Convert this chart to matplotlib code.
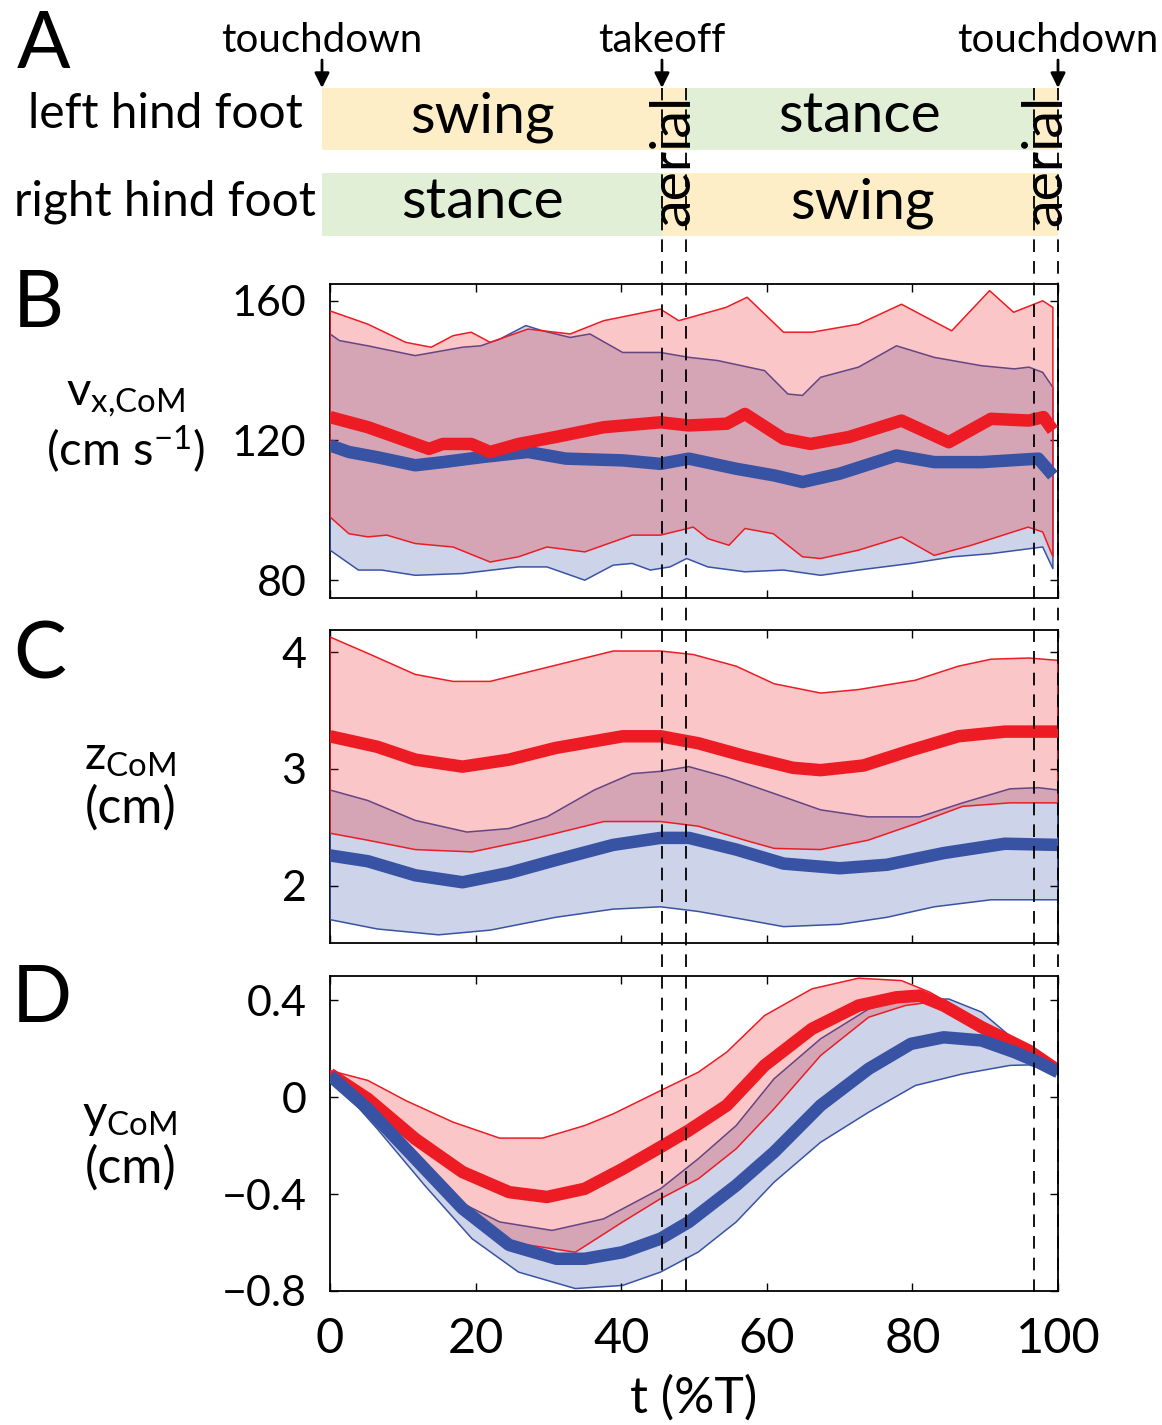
import numpy as np
import matplotlib
matplotlib.use('Agg')
import matplotlib.pyplot as plt

plt.rcParams['font.family'] = ['Lato', 'DejaVu Sans']
plt.rcParams['mathtext.fontset'] = 'custom'
plt.rcParams['mathtext.rm'] = 'Lato'
plt.rcParams['mathtext.it'] = 'Lato:italic'
plt.rcParams['mathtext.bf'] = 'Lato:bold'

# ---------------- data ----------------
# gait events (% of stride)
t_start = -1.1
t_takeoff = 45.6
t_aerial1_end = 48.9
t_aerial2_start = 96.7
t_touchdown = 100.0

# Panel B: forward CoM velocity (cm/s)
tB_red_mean = [0, 5.2, 7.1, 11.7, 13.6, 15.5, 19.4, 22, 25.9, 31, 37.6, 45.4, 49.3, 54.5, 57, 62.3, 66, 71.3, 78.5, 85, 90.8, 96, 98, 99.3]
vB_red_mean = [126.7, 123.8, 122.4, 119, 117.6, 119, 119, 116.7, 119, 121, 123.8, 125.2, 124.3, 124.8, 127.6, 120.5, 119, 121, 125.7, 119.5, 126.2, 125.7, 126.7, 122.9]
tB_blue_mean = [0, 2.6, 6.5, 11.7, 15.5, 20.7, 27.2, 32.4, 40.2, 45.4, 49.3, 55.8, 61, 64.9, 70, 77.8, 83, 89.5, 97.3, 99.3]
vB_blue_mean = [118.6, 116.7, 115.2, 112.9, 113.8, 115.2, 116.7, 114.8, 114.3, 113.3, 114.8, 111.9, 110, 108.1, 110.5, 115.7, 113.8, 113.8, 114.8, 110]
tB_red_up = [0, 2.6, 5.2, 7.1, 10.4, 13.9, 16.9, 19.4, 22, 27.2, 33, 37.6, 45.4, 47.9, 54.4, 57.3, 62.3, 66.2, 72.6, 78.5, 85.4, 90.6, 93.9, 97.9, 99.3]
vB_red_up = [157.1, 155.2, 153.3, 151.4, 148.1, 146.7, 150, 151, 148.1, 151.9, 150.5, 154.3, 157.6, 154.3, 158.1, 161, 151, 151, 153.3, 159, 151.4, 162.9, 156.7, 160, 158.1]
tB_red_lo = [0, 2.6, 5.2, 7.8, 11.7, 16.9, 22, 25.9, 29.8, 35, 41.5, 45.4, 49.9, 51.9, 54.8, 57, 60.9, 64.9, 67.4, 72.6, 78.5, 83, 88.1, 95.9, 97.9, 99.3]
vB_red_lo = [98.1, 93.3, 92.4, 92.9, 90.5, 89.5, 85.2, 86.7, 89.5, 88.1, 92.9, 92.9, 95.2, 91.9, 90, 94.8, 93.3, 86.7, 86.2, 88.6, 92.4, 87.1, 90, 95.2, 93.8, 86.7]
tB_blue_up = [0, 1.3, 5.2, 11.7, 18.2, 20.7, 23.3, 26.9, 29.2, 33, 35.7, 40.2, 45.4, 49.3, 53.2, 59.7, 62.9, 64.9, 67.4, 72.6, 77.8, 83, 89.5, 94, 96, 97.9, 99.3]
vB_blue_up = [150.5, 148.6, 147.1, 144.3, 146.7, 147.1, 149, 152.9, 151.4, 149.5, 150.5, 145.2, 145.2, 143.8, 142.9, 140, 133.3, 132.9, 138.1, 141, 147.1, 143.8, 141.4, 140.5, 141, 139.5, 135.2]
tB_blue_lo = [0, 3.9, 7.1, 11.7, 18.2, 25.9, 29.8, 32.4, 35, 38.9, 41.5, 44, 46.7, 49, 51.9, 57, 62.3, 67.4, 72.6, 79.8, 85.6, 90.8, 96, 97.9, 99.3]
vB_blue_lo = [88.6, 82.9, 82.9, 81.4, 81.9, 83.8, 83.8, 81.9, 80, 84.3, 84.8, 82.9, 83.8, 86.2, 83.8, 82.4, 82.9, 81.4, 82.9, 84.8, 86.7, 87.6, 89, 89.5, 83.3]

# Panel C: vertical CoM position (cm)
tC_red_mean = [0, 6.5, 11.7, 18.2, 24.6, 31, 40.2, 45.4, 50.6, 57, 63.6, 67.4, 73.3, 79.8, 86.3, 92.7, 100]
zC_red_mean = [3.28, 3.19, 3.08, 3.02, 3.08, 3.18, 3.28, 3.28, 3.22, 3.11, 3.01, 2.99, 3.03, 3.16, 3.28, 3.32, 3.32]
tC_red_up = [0, 5.2, 11.7, 16.9, 22, 28.5, 33.7, 38.9, 45.4, 49.9, 55.8, 61, 67.4, 72.6, 80.4, 86.3, 90.8, 96, 100]
zC_red_up = [4.13, 3.99, 3.81, 3.75, 3.75, 3.85, 3.93, 4.01, 4.01, 3.98, 3.88, 3.73, 3.65, 3.68, 3.76, 3.88, 3.94, 3.95, 3.93]
tC_red_lo = [0, 5.2, 11.7, 19.5, 27.2, 37.6, 45.4, 50.6, 57, 61, 67.4, 73.9, 80.4, 86.9, 93.4, 100]
zC_red_lo = [2.45, 2.39, 2.31, 2.29, 2.39, 2.55, 2.55, 2.51, 2.39, 2.32, 2.31, 2.39, 2.53, 2.68, 2.71, 2.71]
tC_blue_mean = [0, 5.2, 11.7, 18.2, 24.6, 31, 38.9, 45.4, 49.3, 55.8, 62.3, 70, 76.5, 84.3, 92.7, 100]
zC_blue_mean = [2.26, 2.21, 2.09, 2.03, 2.11, 2.22, 2.35, 2.41, 2.41, 2.31, 2.19, 2.15, 2.18, 2.28, 2.36, 2.35]
tC_blue_up = [0, 5.2, 11.7, 18.8, 24.6, 29.8, 36.3, 41.5, 45.4, 49.3, 54.5, 61, 67.4, 73.9, 81, 86.9, 93.4, 97.3, 100]
zC_blue_up = [2.82, 2.73, 2.56, 2.46, 2.49, 2.59, 2.82, 2.96, 2.98, 3.02, 2.93, 2.79, 2.65, 2.59, 2.59, 2.71, 2.83, 2.84, 2.82]
tC_blue_lo = [0, 6.5, 14.9, 22, 31, 38.9, 45.4, 50.6, 57, 62.3, 70, 76.5, 83, 90.8, 100]
zC_blue_lo = [1.71, 1.63, 1.58, 1.62, 1.73, 1.80, 1.82, 1.78, 1.71, 1.65, 1.67, 1.73, 1.82, 1.88, 1.88]

# Panel D: lateral CoM position (cm)
tD_blue_mean = [0, 5.2, 11.7, 18.2, 24.6, 31.1, 35, 40.2, 45.4, 49.3, 55.8, 61, 67.4, 74, 79.8, 84.3, 89.5, 94, 97.3, 100]
yD_blue_mean = [0.089, -0.048, -0.254, -0.46, -0.61, -0.667, -0.667, -0.64, -0.584, -0.515, -0.364, -0.227, -0.034, 0.117, 0.22, 0.247, 0.234, 0.186, 0.144, 0.103]
tD_red_mean = [0, 5.2, 11.7, 18.2, 24.6, 29.8, 35, 40.2, 45.4, 49.3, 54.5, 59.7, 66.2, 72.6, 77.8, 81, 84.3, 89.5, 96, 100]
yD_red_mean = [0.096, -0.007, -0.172, -0.309, -0.392, -0.412, -0.378, -0.296, -0.206, -0.137, -0.034, 0.131, 0.282, 0.378, 0.412, 0.419, 0.378, 0.289, 0.192, 0.11]
tD_red_up = [0, 5.2, 10.4, 16.9, 23.3, 29.2, 35, 38.9, 45.4, 50.6, 54.5, 59.7, 66.2, 72.6, 78.5, 82.4, 89.5, 96, 100]
yD_red_up = [0.11, 0.069, -0.014, -0.103, -0.169, -0.169, -0.117, -0.069, 0.027, 0.103, 0.186, 0.337, 0.447, 0.491, 0.481, 0.433, 0.309, 0.199, 0.117]
tD_red_lo = [0, 6.5, 13, 18.2, 24.6, 33.7, 40.2, 45.4, 50.6, 55.8, 61, 67.4, 74, 79, 82.4, 89.5, 96, 100]
yD_red_lo = [0.103, -0.103, -0.309, -0.474, -0.598, -0.64, -0.515, -0.419, -0.337, -0.213, -0.048, 0.172, 0.33, 0.378, 0.392, 0.282, 0.192, 0.106]
tD_blue_up = [0, 6.5, 11.7, 16.9, 23.3, 30.5, 37.6, 45.4, 50.6, 55.8, 61, 67.4, 74, 79, 85, 89.5, 96, 100]
yD_blue_up = [0.103, -0.089, -0.254, -0.419, -0.515, -0.55, -0.502, -0.378, -0.254, -0.117, 0.076, 0.241, 0.364, 0.405, 0.405, 0.351, 0.186, 0.103]
tD_blue_lo = [0, 6.5, 13, 19.5, 25.9, 33.7, 40.2, 45.4, 50.6, 55.8, 61, 67.4, 74, 80.4, 86.9, 93.4, 96, 100]
yD_blue_lo = [0.089, -0.131, -0.364, -0.584, -0.722, -0.79, -0.777, -0.722, -0.639, -0.515, -0.351, -0.186, -0.062, 0.048, 0.096, 0.131, 0.133, 0.103]

x_ticks = [0, 20, 40, 60, 80, 100]
B_ticks = [80, 120, 160]
C_ticks = [2, 3, 4]
D_ticks = [-0.8, -0.4, 0, 0.4]
D_ticklabels = ['\u22120.8', '\u22120.4', '0', '0.4']

# ---------------- style ----------------
RED = '#ED1C24'
BLUE = '#3953A4'
YELLOW = '#FEEEC8'
GREEN = '#E2EFD7'
YTICK_FS = 31
XTICK_FS = 35

W, H = 1162, 1425
fig = plt.figure(figsize=(W / 100, H / 100), dpi=100)


def px_axes(l, t, r, b, **kw):
    return fig.add_axes([l / W, 1 - b / H, (r - l) / W, (b - t) / H], **kw)


def fx(x):
    return x / W


def fy(y):
    return 1 - y / H


def band(ax, tu, u, tl, l, color):
    xs = np.r_[np.asarray(tu, float), np.asarray(tl, float)[::-1]]
    ys = np.r_[np.asarray(u, float), np.asarray(l, float)[::-1]]
    ax.fill(xs, ys, facecolor=matplotlib.colors.to_rgba(color, 0.25),
            edgecolor=color, lw=1.1, joinstyle='round',
            zorder=2 if color == RED else 1)


def mean_line(ax, t, v, color, z):
    ax.plot(t, v, color=color, lw=9, solid_capstyle='butt',
            solid_joinstyle='round', zorder=z)


def style(ax, ylim, yticks, yticklabels=None, show_x=False):
    ax.set_xlim(0, 100)
    ax.set_ylim(*ylim)
    ax.set_xticks(x_ticks)
    ax.set_yticks(yticks)
    if yticklabels is not None:
        ax.set_yticklabels(yticklabels)
    ax.tick_params(direction='in', top=True, right=True, length=6, width=1.0)
    ax.tick_params(axis='y', labelsize=YTICK_FS, pad=17)
    ax.tick_params(axis='x', labelsize=XTICK_FS, pad=19)
    if not show_x:
        ax.set_xticklabels([])
    for s in ax.spines.values():
        s.set_linewidth(1.3)
        s.set_zorder(0.5)


# ---------------- Panel B ----------------
axB = px_axes(330, 284, 1058, 598)
band(axB, tB_blue_up, vB_blue_up, tB_blue_lo, vB_blue_lo, BLUE)
band(axB, tB_red_up, vB_red_up, tB_red_lo, vB_red_lo, RED)
mean_line(axB, tB_blue_mean, vB_blue_mean, BLUE, 3)
mean_line(axB, tB_red_mean, vB_red_mean, RED, 4)
style(axB, (74.9, 164.8), B_ticks)

# ---------------- Panel C ----------------
axC = px_axes(330, 630, 1058, 943)
band(axC, tC_blue_up, zC_blue_up, tC_blue_lo, zC_blue_lo, BLUE)
band(axC, tC_red_up, zC_red_up, tC_red_lo, zC_red_lo, RED)
mean_line(axC, tC_blue_mean, zC_blue_mean, BLUE, 3)
mean_line(axC, tC_red_mean, zC_red_mean, RED, 4)
style(axC, (1.51, 4.19), C_ticks)

# ---------------- Panel D ----------------
axD = px_axes(330, 976, 1058, 1291)
band(axD, tD_blue_up, yD_blue_up, tD_blue_lo, yD_blue_lo, BLUE)
band(axD, tD_red_up, yD_red_up, tD_red_lo, yD_red_lo, RED)
mean_line(axD, tD_red_mean, yD_red_mean, RED, 3)
mean_line(axD, tD_blue_mean, yD_blue_mean, BLUE, 4)
style(axD, (-0.8, 0.5), D_ticks, D_ticklabels, show_x=True)

# ---------------- Panel A ----------------
axA = px_axes(322, 0, 1058, 250)
axA.set_xlim(t_start, 100)
axA.set_ylim(250, 0)
axA.axis('off')
left_phases = [(t_start, t_aerial1_end, YELLOW), (t_aerial1_end, t_aerial2_start, GREEN),
               (t_aerial2_start, t_touchdown, YELLOW)]
right_phases = [(t_start, t_takeoff, GREEN), (t_takeoff, t_touchdown, YELLOW)]
for a, b, c in left_phases:
    axA.barh(119, b - a, left=a, height=62, color=c, lw=0)
for a, b, c in right_phases:
    axA.barh(204.5, b - a, left=a, height=63, color=c, lw=0)

BAR_FS = 41
axA.text(21.0, 117, 'swing', ha='center', va='center', fontsize=BAR_FS)
axA.text(72.8, 117, 'stance', ha='center', va='center', fontsize=BAR_FS)
axA.text(20.9, 203, 'stance', ha='center', va='center', fontsize=BAR_FS)
axA.text(73.2, 203, 'swing', ha='center', va='center', fontsize=BAR_FS)
for (a, b) in [(t_takeoff, t_aerial1_end), (t_aerial2_start, t_touchdown)]:
    axA.text((a + b) / 2, 160, 'aerial', ha='center', va='center', rotation=90,
             fontsize=40, zorder=5)

LAB_FS = 34.5
axA.text(-3.7, 114, 'left hind foot', ha='right', va='center', fontsize=LAB_FS, clip_on=False)
axA.text(-2.0, 202, 'right hind foot', ha='right', va='center', fontsize=LAB_FS, clip_on=False)

EV_FS = 29
for t, lab in [(t_start, 'touchdown'), (t_takeoff, 'takeoff'), (t_touchdown, 'touchdown')]:
    axA.text(t, 40, lab, ha='center', va='center', fontsize=EV_FS, clip_on=False)
    axA.annotate('', xy=(t, 88), xytext=(t, 60),
                 arrowprops=dict(arrowstyle='-|>', color='k', lw=2, mutation_scale=22,
                                 shrinkA=0, shrinkB=0), annotation_clip=False)

# ---------------- dashed event lines ----------------
axO = px_axes(330, 88, 1058, 1292, zorder=10)
axO.patch.set_alpha(0)
axO.set_xlim(0, 100)
axO.set_ylim(0, 1)
axO.axis('off')
for t in [t_takeoff, t_aerial1_end, t_aerial2_start, t_touchdown]:
    axO.plot([t, t], [0, 1], color='k', lw=1.3, linestyle=(0, (7, 5)), clip_on=False)

# ---------------- labels ----------------
PL_FS = 57
fig.text(fx(44), fy(46), 'A', ha='center', va='center', fontsize=PL_FS)
fig.text(fx(38), fy(305), 'B', ha='center', va='center', fontsize=PL_FS)
fig.text(fx(40), fy(656), 'C', ha='center', va='center', fontsize=PL_FS)
fig.text(fx(42), fy(1000), 'D', ha='center', va='center', fontsize=PL_FS)

YL_FS = 34
fig.text(fx(126), fy(398), r'v$_{\mathrm{x{,}CoM}}$', ha='center', va='center', fontsize=YL_FS)
fig.text(fx(126), fy(450), r'(cm s$^{\mathrm{-1}}$)', ha='center', va='center', fontsize=YL_FS)
fig.text(fx(130), fy(758), r'z$_{\mathrm{CoM}}$', ha='center', va='center', fontsize=YL_FS)
fig.text(fx(131), fy(808), '(cm)', ha='center', va='center', fontsize=YL_FS + 2)
fig.text(fx(130), fy(1117), r'y$_{\mathrm{CoM}}$', ha='center', va='center', fontsize=YL_FS)
fig.text(fx(131), fy(1168), '(cm)', ha='center', va='center', fontsize=YL_FS + 2)

fig.text(fx(694), fy(1398), 't (%T)', ha='center', va='center', fontsize=36)

fig.savefig('out.png', dpi=100)
